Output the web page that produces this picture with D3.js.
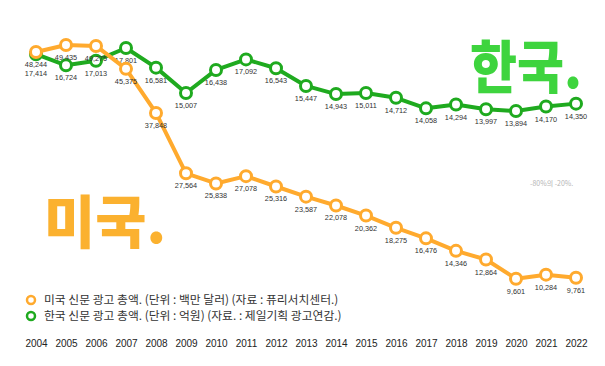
<!DOCTYPE html>
<html><head><meta charset="utf-8">
<script src="https://cdn.jsdelivr.net/npm/d3@7"></script>
<style>body{margin:0;background:#fff;}svg{display:block;}</style>
</head><body>
<script>
const years = ["2004","2005","2006","2007","2008","2009","2010","2011","2012","2013","2014","2015","2016","2017","2018","2019","2020","2021","2022"];
const usValues = [48244,49435,49275,45375,37848,27564,25838,27078,25316,23587,22078,20362,18275,16476,14346,12864,9601,10284,9761];
const krValues = [17414,16724,17013,17801,16581,15007,16438,17092,16543,15447,14943,15011,14712,14058,14294,13997,13894,14170,14350];
const legendLabels = ["미국 신문 광고 총액. (단위 : 백만 달러) (자료 : 퓨리서치센터.)","한국 신문 광고 총액. (단위 : 억원) (자료. : 제일기획 광고연감.)"];

const W=605,H=366;
const orange="#FFAA2E", green="#1FAA1F";
const svg=d3.select("body").append("svg").attr("width",W).attr("height",H);

const x=d3.scalePoint().domain(years).range([36,576]);
const yUS=d3.scaleLinear().domain([0,50000]).range([335,41.7]);
const yKR=d3.scaleLinear().domain([13000,18500]).range([125.4,36.7]);

// big titles
svg.append("text").attr("x",470).attr("y",88).attr("font-family","Noto Sans CJK KR").attr("font-weight",900)
  .attr("font-size",57).attr("fill","#3ED43E").attr("textLength",112).attr("lengthAdjust","spacingAndGlyphs").text("한국.");
svg.append("text").attr("x",44).attr("y",243).attr("font-family","Noto Sans CJK KR").attr("font-weight",900)
  .attr("font-size",57).attr("fill","#FBB12F").attr("textLength",122).attr("lengthAdjust","spacingAndGlyphs").text("미국.");

svg.append("text").attr("x",530).attr("y",186).attr("font-family","Noto Sans CJK KR").attr("font-size",7)
  .attr("fill","#b5b5b5").text("-80%의 -20%.");

function series(vals,y,color,extra){
  const line=d3.line().x((d,i)=>x(years[i])).y(d=>y(d));
  svg.append("path").datum(vals).attr("d",line).attr("fill","none").attr("stroke",color)
    .attr("stroke-width",4).attr("stroke-linejoin","round");
  svg.selectAll(null).data(vals).enter().append("circle")
    .attr("cx",(d,i)=>x(years[i])).attr("cy",d=>y(d)).attr("r",5.5)
    .attr("fill","#fff").attr("stroke",color).attr("stroke-width",3);
  svg.selectAll(null).data(vals).enter().append("text")
    .attr("x",(d,i)=>x(years[i])).attr("y",(d,i)=>y(d)+15+(extra(i)||0)).attr("text-anchor","middle")
    .attr("font-family","Liberation Sans, Arial").attr("font-size",7.3).attr("fill","#333")
    .text(d=>d3.format(",")(d));
}
series(krValues,yKR,green,i=>i===0?7:0);
series(usValues,yUS,orange,i=>0);

// legend
[orange,green].forEach((c,i)=>{
  const yy=300+i*16;
  svg.append("circle").attr("cx",31).attr("cy",yy).attr("r",4).attr("fill","#fff").attr("stroke",c).attr("stroke-width",2.5);
  svg.append("text").attr("x",44).attr("y",yy+4).attr("font-family","Noto Sans CJK KR").attr("font-size",11.8)
    .attr("fill","#333").text(legendLabels[i]);
});

// x axis labels
const ax=svg.append("g").attr("transform","translate(0,340)").call(d3.axisBottom(x).tickSize(0).tickPadding(0));
ax.select(".domain").remove();
ax.selectAll("text").attr("font-family","Liberation Sans, Arial").attr("font-size",10).attr("fill","#222").attr("dy","0.71em");
</script>
</body></html>
